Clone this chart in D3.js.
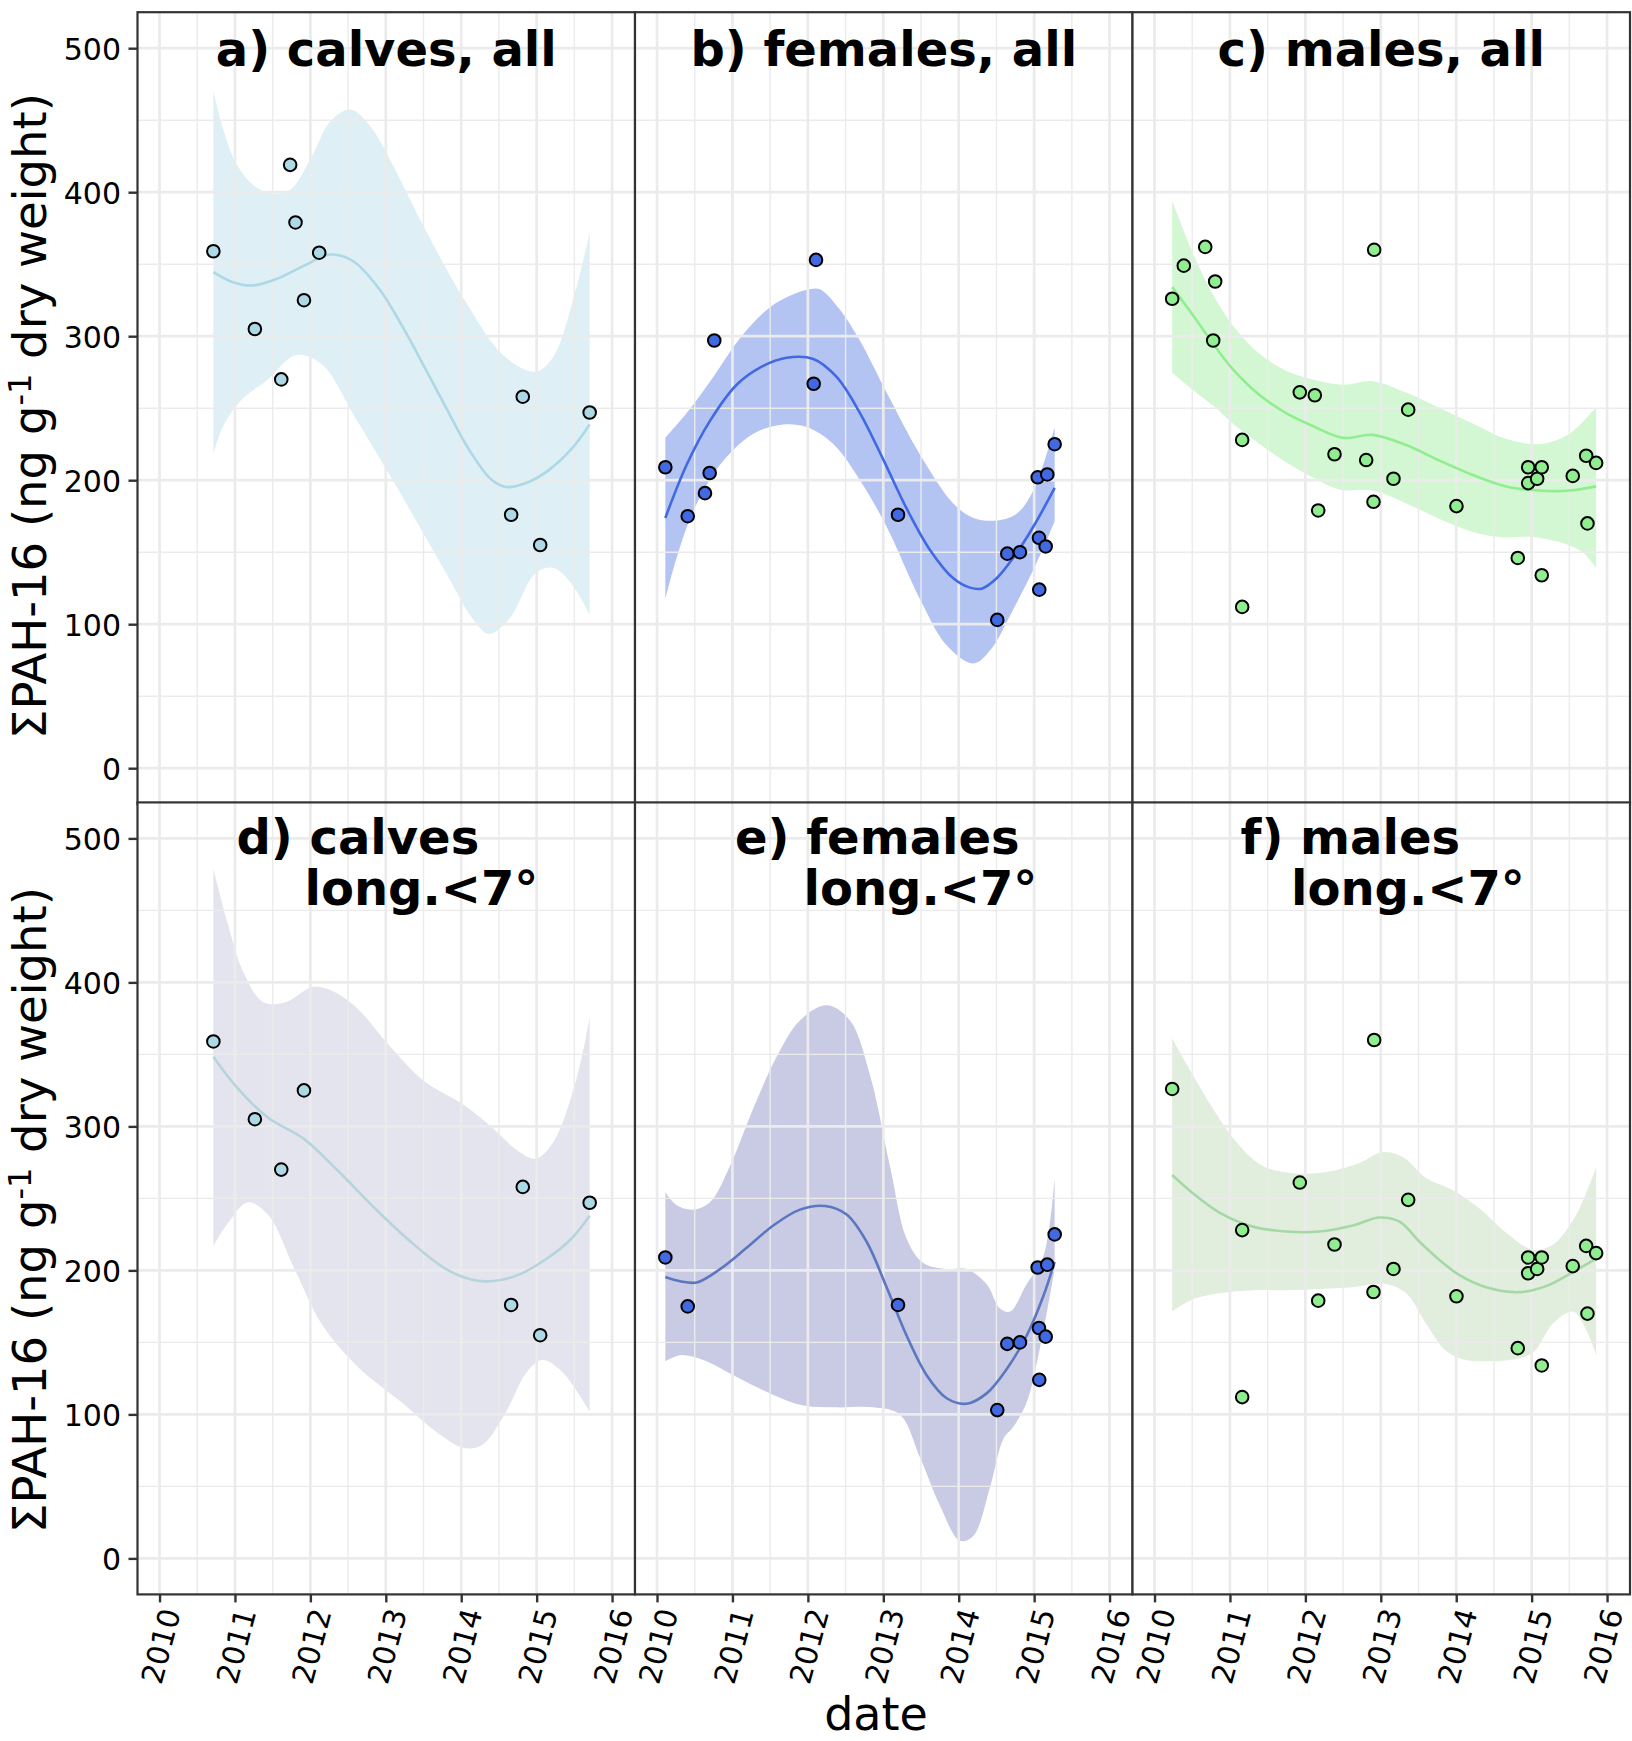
<!DOCTYPE html>
<html><head><meta charset="utf-8">
<script src="https://cdn.jsdelivr.net/npm/d3@7"></script>
<style>
body{margin:0;background:#fff}
svg{display:block}
text{font-family:"DejaVu Sans",sans-serif}
</style>
</head><body>
<svg id="chart" width="1632" height="1741"></svg>
<script>
// ---------------- DATA ----------------
const xTickYears = [2010, 2011, 2012, 2013, 2014, 2015, 2016];
const xMinorYears = [2010.5, 2011.5, 2012.5, 2013.5, 2014.5, 2015.5];
const yTicks = [0, 100, 200, 300, 400, 500];
const yMinor = [50, 150, 250, 350, 450];

// observations [decimal date, ΣPAH-16]
const calvesAll = [[2010.714,359],[2011.264,305],[2011.614,270],[2011.732,419],[2011.803,379],[2011.915,325],[2012.117,358],[2014.662,176],[2014.816,258],[2015.047,155],[2015.703,247]];
const femalesAll = [[2010.110,209],[2010.407,175],[2010.636,191],[2010.698,205],[2010.759,297],[2012.108,353],[2012.077,267],[2013.195,176],[2014.511,103],[2014.644,149],[2014.812,150],[2015.047,202],[2015.174,204],[2015.064,160],[2015.153,154],[2015.068,124],[2015.272,225]];
const malesAll = [[2010.234,326],[2010.388,349],[2010.672,362],[2010.804,338],[2010.778,297],[2011.162,228],[2011.162,112],[2011.926,261],[2012.125,259],[2012.170,179],[2012.386,218],[2012.806,214],[2012.912,360],[2012.903,185],[2013.168,201],[2013.363,249],[2014.003,182],[2014.816,146],[2014.954,209],[2014.954,198],[2015.073,201],[2015.134,209],[2015.134,134],[2015.545,203],[2015.723,217],[2015.740,170],[2015.855,212]];
const calvesWest = [[2010.714,359],[2011.264,305],[2011.614,270],[2011.915,325],[2014.662,176],[2014.816,258],[2015.047,155],[2015.703,247]];
const femalesWest = [[2010.110,209],[2010.407,175],[2013.195,176],[2014.511,103],[2014.644,149],[2014.812,150],[2015.047,202],[2015.174,204],[2015.064,160],[2015.153,154],[2015.068,124],[2015.272,225]];
const malesWest = [[2010.234,326],[2011.162,228],[2011.162,112],[2011.926,261],[2012.170,179],[2012.386,218],[2012.912,360],[2012.903,185],[2013.168,201],[2013.363,249],[2014.003,182],[2014.816,146],[2014.954,209],[2014.954,198],[2015.073,201],[2015.134,209],[2015.134,134],[2015.545,203],[2015.723,217],[2015.740,170],[2015.855,212]];

// smoother fits and confidence bands [decimal date, value]
const calvesAllFit = [[2010.714,344.5],[2010.963,337.7],[2011.229,335.2],[2011.555,339.8],[2011.91,348.8],[2012.265,356.7],[2012.56,352.4],[2012.916,332.6],[2013.212,307.5],[2013.51,278.9],[2013.80,250.2],[2014.10,221.5],[2014.395,200.7],[2014.60,195.3],[2014.869,198.2],[2015.165,207.2],[2015.46,221.5],[2015.703,238.7]];
const calvesAllUpper = [[2010.714,470.7],[2010.844,443.8],[2011.022,419.4],[2011.258,404.3],[2011.495,399.0],[2011.732,401.5],[2012.028,425.8],[2012.265,449.2],[2012.531,457.4],[2012.797,445.6],[2013.093,418.7],[2013.507,375.7],[2014.04,325.5],[2014.573,286.0],[2014.987,275.3],[2015.224,286.0],[2015.52,332.6],[2015.703,372.1]];
const calvesAllLower = [[2010.714,217.9],[2010.844,237.6],[2011.081,255.6],[2011.436,269.9],[2011.803,286.8],[2012.147,280.7],[2012.62,241.2],[2013.212,189.2],[2013.80,135.5],[2014.159,103.2],[2014.366,93.2],[2014.632,103.2],[2014.987,135.5],[2015.224,139.1],[2015.46,128.3],[2015.703,106.8]];

const femalesAllFit = [[2010.11,173.8],[2010.393,210.7],[2010.702,241.2],[2011.056,266.3],[2011.365,278.2],[2011.719,285.0],[2012.072,284.2],[2012.381,271.7],[2012.691,246.6],[2013.0,214.3],[2013.31,180.3],[2013.619,151.6],[2013.928,131.9],[2014.149,125.4],[2014.304,124.7],[2014.503,131.9],[2014.724,146.2],[2014.989,167.7],[2015.272,194.6]];
const femalesAllUpper = [[2010.11,229.4],[2010.393,246.6],[2010.746,271.7],[2011.1,298.6],[2011.498,320.1],[2011.807,329.1],[2012.028,332.6],[2012.16,332.6],[2012.426,318.3],[2012.691,296.8],[2013.044,260.9],[2013.486,217.9],[2013.928,183.9],[2014.193,173.8],[2014.503,172.0],[2014.768,176.7],[2014.989,192.8],[2015.272,236.6]];
const femalesAllLower = [[2010.11,117.5],[2010.26,146.2],[2010.481,178.5],[2010.835,210.7],[2011.277,232.3],[2011.674,238.7],[2011.984,236.9],[2012.337,225.1],[2012.691,200.0],[2013.044,167.7],[2013.486,117.5],[2013.84,85.3],[2014.193,72.7],[2014.414,81.7],[2014.724,110.4],[2015.033,142.6],[2015.272,171.3]];

const malesAllFit = [[2010.234,334.1],[2010.508,314.7],[2010.773,295.0],[2011.038,277.1],[2011.392,259.1],[2011.745,246.6],[2012.099,237.6],[2012.497,229.4],[2012.894,231.5],[2013.336,224.4],[2013.778,213.6],[2014.22,203.6],[2014.662,195.7],[2015.104,192.8],[2015.501,192.8],[2015.855,195.7]];
const malesAllUpper = [[2010.234,394.3],[2010.508,357.7],[2010.773,329.1],[2011.038,307.5],[2011.392,287.8],[2011.745,276.0],[2012.099,269.9],[2012.497,266.3],[2012.894,268.8],[2013.336,260.9],[2013.778,250.2],[2014.22,239.4],[2014.662,228.7],[2015.104,225.1],[2015.501,232.3],[2015.855,250.9]];
const malesAllLower = [[2010.234,274.6],[2010.508,262.7],[2010.773,252.0],[2011.038,239.4],[2011.392,225.1],[2011.745,212.5],[2012.099,201.8],[2012.453,193.5],[2012.894,192.8],[2013.336,183.9],[2013.778,173.1],[2014.22,164.1],[2014.573,160.6],[2015.016,160.6],[2015.369,157.0],[2015.678,149.8],[2015.855,139.1]];

const calvesWestFit = [[2010.714,348.4],[2011.022,327.3],[2011.436,306.2],[2011.91,291.5],[2012.383,268.3],[2012.857,243.0],[2013.33,219.9],[2013.80,200.9],[2014.159,193.3],[2014.395,192.5],[2014.75,196.7],[2015.165,209.3],[2015.46,222.0],[2015.703,238.0]];
const calvesWestUpper = [[2010.714,478.9],[2010.903,441.0],[2011.11,407.3],[2011.377,386.3],[2011.673,386.3],[2012.028,396.8],[2012.265,394.7],[2012.62,382.1],[2013.034,356.8],[2013.507,331.5],[2014.04,314.7],[2014.395,299.9],[2014.75,283.1],[2014.987,277.6],[2015.224,289.4],[2015.52,331.5],[2015.703,375.7]];
const calvesWestLower = [[2010.714,216.9],[2010.903,232.5],[2011.17,247.3],[2011.436,238.8],[2011.791,200.9],[2012.147,163.0],[2012.62,133.5],[2013.212,108.2],[2013.685,87.2],[2014.04,76.6],[2014.277,78.7],[2014.573,99.8],[2014.869,129.3],[2015.076,137.7],[2015.343,129.3],[2015.703,101.9]];

const femalesWestFit = [[2010.11,195.4],[2010.304,192.5],[2010.525,191.6],[2010.835,200.9],[2011.188,215.7],[2011.542,231.2],[2011.895,242.2],[2012.227,244.7],[2012.514,238.8],[2012.779,219.9],[2013.044,188.3],[2013.31,154.6],[2013.575,127.2],[2013.84,111.2],[2014.105,107.4],[2014.37,114.6],[2014.635,131.4],[2014.9,154.6],[2015.121,182.0],[2015.272,206.0]];
const femalesWestUpper = [[2010.11,254.4],[2010.26,245.2],[2010.481,242.2],[2010.702,247.3],[2010.967,272.5],[2011.277,312.6],[2011.586,348.4],[2011.895,373.6],[2012.249,384.1],[2012.558,373.6],[2012.823,335.7],[2013.088,272.5],[2013.31,222.0],[2013.53,205.1],[2013.84,200.9],[2014.105,200.9],[2014.37,190.4],[2014.547,173.5],[2014.68,171.4],[2014.9,190.4],[2015.121,209.3],[2015.272,264.1]];
const femalesWestLower = [[2010.11,136.9],[2010.304,141.1],[2010.614,137.7],[2011.056,125.9],[2011.498,114.6],[2011.939,106.1],[2012.381,104.9],[2012.867,104.9],[2013.221,99.8],[2013.486,70.3],[2013.752,36.6],[2014.017,12.2],[2014.193,15.6],[2014.414,49.3],[2014.591,83.0],[2014.724,91.4],[2014.9,108.2],[2015.077,146.2],[2015.272,200.9]];

const malesWestFit = [[2010.234,266.2],[2010.508,253.6],[2010.861,240.1],[2011.303,230.4],[2011.745,227.0],[2012.187,227.0],[2012.629,231.2],[2012.982,236.7],[2013.248,233.8],[2013.513,219.9],[2013.778,207.2],[2014.043,196.7],[2014.397,188.3],[2014.838,184.9],[2015.192,189.1],[2015.546,198.8],[2015.855,208.1]];
const malesWestUpper = [[2010.234,361.0],[2010.508,335.7],[2010.773,312.5],[2011.082,289.4],[2011.436,272.5],[2011.834,267.5],[2012.276,268.3],[2012.718,274.6],[2013.027,282.2],[2013.292,278.8],[2013.601,264.1],[2013.955,255.7],[2014.309,243.0],[2014.662,226.2],[2015.015,214.4],[2015.28,217.8],[2015.546,234.6],[2015.722,253.6],[2015.855,271.7]];
const malesWestLower = [[2010.234,171.4],[2010.508,179.9],[2010.861,184.1],[2011.303,186.2],[2011.745,186.2],[2012.187,187.0],[2012.629,188.3],[2013.071,190.4],[2013.336,184.1],[2013.601,163.0],[2013.866,144.0],[2014.131,137.7],[2014.397,136.9],[2014.706,137.7],[2015.015,142.8],[2015.28,163.0],[2015.546,171.4],[2015.722,158.8],[2015.855,141.1]];

const panelTitles = [
  ["a) calves, all"], ["b) females, all"], ["c) males, all"],
  ["d) calves", "long.<7°"], ["e) females", "long.<7°"], ["f) males", "long.<7°"]
];

// ---------------- LAYOUT / STYLE ----------------
const svg = d3.select("#chart");
const W = 497.5, H = 792;
const lefts = [137.5, 635, 1132.5];
const tops = [12.2, 802.4];
const xDomain = [2009.708, 2016.304];
const yDomain = [-25, 525];

const panels = [
  {row:0,col:0,pts:calvesAll,fit:calvesAllFit,up:calvesAllUpper,lo:calvesAllLower,pt:"#ADD8E6",line:"#ADD8E6",band:"#DEEFF5",title:panelTitles[0]},
  {row:0,col:1,pts:femalesAll,fit:femalesAllFit,up:femalesAllUpper,lo:femalesAllLower,pt:"#4169E1",line:"#4169E1",band:"#B3C3F2",title:panelTitles[1]},
  {row:0,col:2,pts:malesAll,fit:malesAllFit,up:malesAllUpper,lo:malesAllLower,pt:"#90EE90",line:"#90EE90",band:"#D3F7D3",title:panelTitles[2]},
  {row:1,col:0,pts:calvesWest,fit:calvesWestFit,up:calvesWestUpper,lo:calvesWestLower,pt:"#ADD8E6",line:"#B6D4DC",band:"#E4E4EE",title:panelTitles[3],tx:[99,167]},
  {row:1,col:1,pts:femalesWest,fit:femalesWestFit,up:femalesWestUpper,lo:femalesWestLower,pt:"#4169E1",line:"#5B77BF",band:"#C9CAE3",title:panelTitles[4],tx:[100,168.5]},
  {row:1,col:2,pts:malesWest,fit:malesWestFit,up:malesWestUpper,lo:malesWestLower,pt:"#90EE90",line:"#A6D8A6",band:"#E2EEDD",title:panelTitles[5],tx:[108,158.5]}
];

const gridColor = "#EBEBEB";
const darkLine = "#333333";

panels.forEach(p => {
  const x0 = lefts[p.col], y0 = tops[p.row];
  const x = d3.scaleLinear().domain(xDomain).range([x0, x0 + W]);
  const y = d3.scaleLinear().domain(yDomain).range([y0 + H, y0]);
  const g = svg.append("g");

  const clipId = "clip" + p.row + p.col;
  svg.append("clipPath").attr("id", clipId).append("rect")
    .attr("x", x0).attr("y", y0).attr("width", W).attr("height", H);

  g.append("rect").attr("x", x0).attr("y", y0).attr("width", W).attr("height", H).attr("fill", "#fff");

  const inner = g.append("g").attr("clip-path", `url(#${clipId})`);

  // confidence band
  const lineGen = d3.line().x(d => x(d[0])).y(d => y(d[1])).curve(d3.curveCatmullRom.alpha(0.5));
  const upperPath = lineGen(p.up);
  const lowerPath = lineGen(p.lo.slice().reverse());
  inner.append("path")
    .attr("d", upperPath + "L" + lowerPath.slice(1) + "Z")
    .attr("fill", p.band);

  // gridlines
  inner.selectAll(".vmin").data(xMinorYears).join("line")
    .attr("x1", d => x(d)).attr("x2", d => x(d)).attr("y1", y0).attr("y2", y0 + H)
    .attr("stroke", gridColor).attr("stroke-width", 1.4);
  inner.selectAll(".hmin").data(yMinor).join("line")
    .attr("y1", d => y(d)).attr("y2", d => y(d)).attr("x1", x0).attr("x2", x0 + W)
    .attr("stroke", gridColor).attr("stroke-width", 1.4);
  inner.selectAll(".vmaj").data(xTickYears).join("line")
    .attr("x1", d => x(d)).attr("x2", d => x(d)).attr("y1", y0).attr("y2", y0 + H)
    .attr("stroke", gridColor).attr("stroke-width", 2.7);
  inner.selectAll(".hmaj").data(yTicks).join("line")
    .attr("y1", d => y(d)).attr("y2", d => y(d)).attr("x1", x0).attr("x2", x0 + W)
    .attr("stroke", gridColor).attr("stroke-width", 2.7);

  // fitted line
  inner.append("path").attr("d", lineGen(p.fit))
    .attr("fill", "none").attr("stroke", p.line).attr("stroke-width", 2.6);

  // points
  inner.selectAll("circle").data(p.pts).join("circle")
    .attr("cx", d => x(d[0])).attr("cy", d => y(d[1])).attr("r", 6.3)
    .attr("fill", p.pt).attr("stroke", "#000").attr("stroke-width", 2);

  // titles
  if (p.row === 0) {
    g.append("text").attr("x", x0 + W / 2).attr("y", y0 + 53.4)
      .attr("text-anchor", "middle").attr("font-size", 48).attr("font-weight", "bold")
      .text(p.title[0]);
  } else {
    g.append("text").attr("x", x0 + p.tx[0]).attr("y", y0 + 51.3)
      .attr("font-size", 48).attr("font-weight", "bold").text(p.title[0]);
    g.append("text").attr("x", x0 + p.tx[1]).attr("y", y0 + 102.8)
      .attr("font-size", 48).attr("font-weight", "bold").text(p.title[1]);
  }

  // y axis on first column
  if (p.col === 0) {
    const ax = g.append("g").attr("transform", `translate(${x0},0)`)
      .call(d3.axisLeft(y).tickValues(yTicks).tickSize(9).tickPadding(7.5));
    ax.select(".domain").remove();
    ax.selectAll(".tick line").attr("stroke", darkLine).attr("stroke-width", 2.4);
    ax.selectAll(".tick text").attr("font-size", 30).attr("fill", "#000")
      .attr("font-family", "DejaVu Sans").attr("dy", "0.36em");
  }
  // x axis on bottom row
  if (p.row === 1) {
    const lastPanel = p.col === 2;
    const ax = g.append("g").attr("transform", `translate(0,${y0 + H})`)
      .call(d3.axisBottom(x).tickValues(xTickYears).tickFormat(d3.format("d")).tickSize(8));
    ax.select(".domain").remove();
    ax.selectAll(".tick line").attr("stroke", darkLine).attr("stroke-width", 2.4);
    ax.selectAll(".tick text").attr("font-size", 30).attr("fill", "#000")
      .attr("font-family", "DejaVu Sans")
      .attr("y", null).attr("dy", "0.72em").attr("x", 0)
      .attr("text-anchor", "end")
      .attr("transform", (d, i, n) => (lastPanel && i === n.length - 1)
        ? "translate(-5,12) rotate(-75)" : "translate(0,12) rotate(-75)");
  }

  // border
  g.append("rect").attr("x", x0).attr("y", y0).attr("width", W).attr("height", H)
    .attr("fill", "none").attr("stroke", darkLine).attr("stroke-width", 2.2);
});

// axis titles
const yTitleCenters = [416, 1210];
yTitleCenters.forEach(cy => {
  const t = svg.append("text")
    .attr("transform", `translate(46,${cy}) rotate(-90)`)
    .attr("text-anchor", "middle").attr("font-size", 46.5).attr("fill", "#000");
  t.append("tspan").text("ΣPAH-16 (ng g");
  t.append("tspan").attr("font-size", 32).attr("dy", -15).text("-1");
  t.append("tspan").attr("dy", 15).text(" dry weight)");
});
svg.append("text").attr("x", 876).attr("y", 1730).attr("text-anchor", "middle")
  .attr("font-size", 46).attr("fill", "#000").text("date");
</script>
</body></html>
